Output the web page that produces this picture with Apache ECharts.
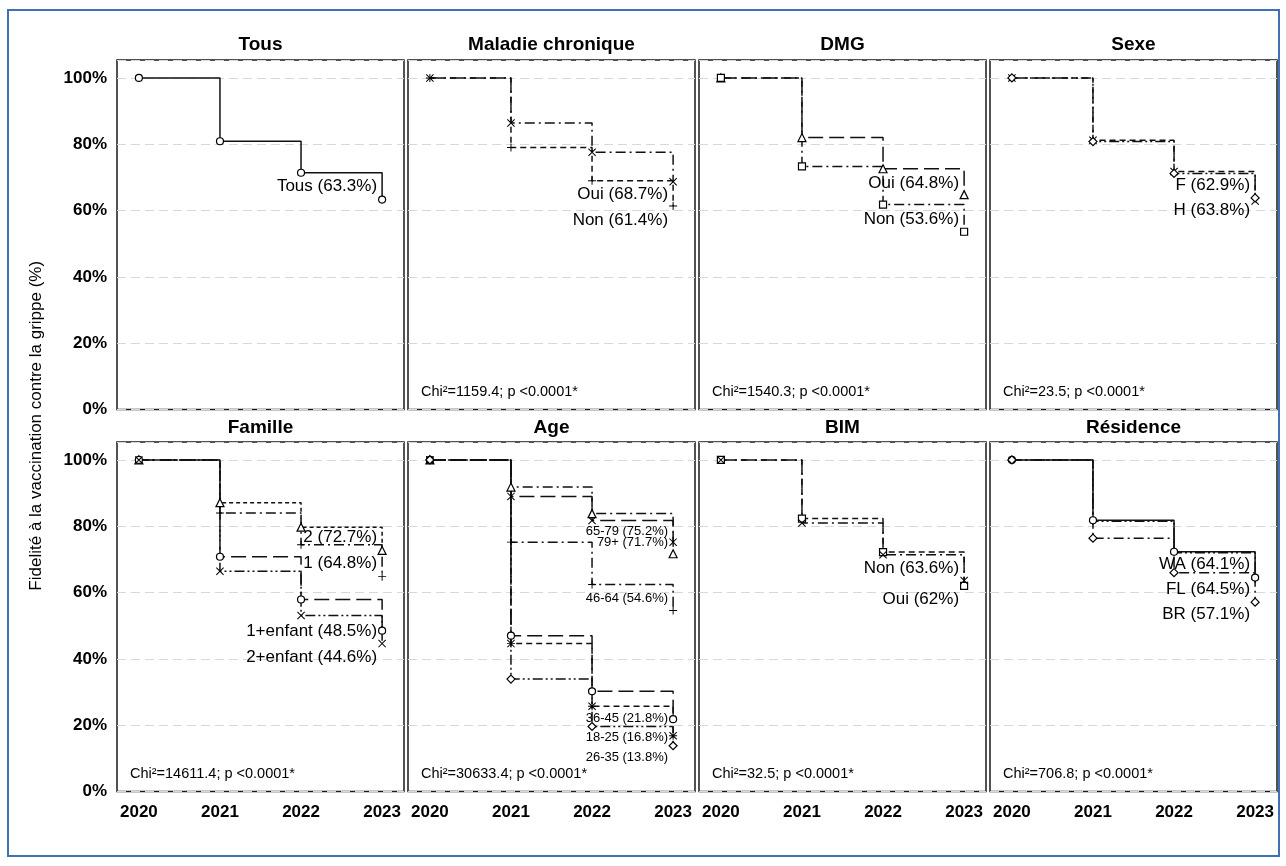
<!DOCTYPE html>
<html>
<head>
<meta charset="utf-8">
<script src="https://cdn.jsdelivr.net/npm/echarts@6.0.0/dist/echarts.min.js"></script>
<style>
  html, body { margin: 0; padding: 0; background: #fff; }
  #chart { width: 1286px; height: 866px; }
</style>
</head>
<body>
<div id="chart"></div>
<script>
// ---- data ----
const years = [2020, 2021, 2022, 2023];
const yTicks = [0, 20, 40, 60, 80, 100];

const panelTitles = ['Tous', 'Maladie chronique', 'DMG', 'Sexe', 'Famille', 'Age', 'BIM', 'Résidence'];
const chiTexts = [
  null,
  'Chi²=1159.4; p <0.0001*',
  'Chi²=1540.3; p <0.0001*',
  'Chi²=23.5; p <0.0001*',
  'Chi²=14611.4; p <0.0001*',
  'Chi²=30633.4; p <0.0001*',
  'Chi²=32.5; p <0.0001*',
  'Chi²=706.8; p <0.0001*'
];

const tousNames = ['Tous'];
const tousValues = [[100, 80.9, 71.4, 63.3]];

const maladieNames = ['Oui', 'Non'];
const maladieValues = [[100, 86.4, 77.6, 68.7], [100, 79.0, 69.0, 61.4]];

const dmgNames = ['Oui', 'Non'];
const dmgValues = [[100, 82.0, 72.6, 64.8], [100, 73.3, 61.8, 53.6]];

const sexeNames = ['F', 'H'];
const sexeValues = [[100, 81.2, 71.8, 62.9], [100, 80.8, 71.2, 63.8]];

const familleNames = ['2', '1', '1+enfant', '2+enfant'];
const familleValues = [
  [100, 87.1, 79.7, 72.7],
  [100, 84.0, 74.4, 64.8],
  [100, 70.8, 57.9, 48.5],
  [100, 66.4, 53.1, 44.6]
];

const ageNames = ['79+', '65-79', '46-64', '36-45', '18-25', '26-35'];
const ageValues = [
  [100, 91.8, 83.8, 71.7],
  [100, 89.0, 81.7, 75.2],
  [100, 75.2, 62.4, 54.6],
  [100, 47.0, 30.2, 21.8],
  [100, 44.6, 25.7, 16.8],
  [100, 33.9, 19.6, 13.8]
];

const bimNames = ['Oui', 'Non'];
const bimValues = [[100, 82.3, 72.2, 62], [100, 81.0, 71.4, 63.6]];

const residenceNames = ['WA', 'FL', 'BR'];
const residenceValues = [[100, 81.5, 72.0, 64.1], [100, 81.8, 72.3, 64.5], [100, 76.4, 66.0, 57.1]];

// ---- where each end label sits (value axis units), kept apart from the data ----
const labelSpots = [
  [67.3],
  [64.9, 57.0],
  [68.2, 57.3],
  [67.5, 60.0],
  [76.6, 68.8, 48.3, 40.4],
  [75.2, 78.5, 58.2, 22.0, 16.3, 10.3],
  [58.1, 67.3],
  [68.5, 61.0, 53.5]
];

// ---- marker and dash styles ----
const PLUS = 'path://M4.4,0H5.6V10H4.4Z M0,4.4H10V5.6H0Z';
const CROSS = 'path://M0.9,0L10,9.1L9.1,10L0,0.9Z M9.1,0L10,0.9L0.9,10L0,9.1Z';
const STAR = 'path://M0.9,0L10,9.1L9.1,10L0,0.9Z M9.1,0L10,0.9L0.9,10L0,9.1Z M4.4,0H5.6V10H4.4Z M0,4.4H10V5.6H0Z';
const DASH = {
  solid: 'solid',
  dashed: [6, 4],
  short: [4, 3],
  long: [15, 6],
  dotdash: [10, 4, 2, 4],
  twodash: [10, 3, 2, 3, 2, 3]
};

const panelSeries = [
  { names: tousNames, values: tousValues, marks: ['circle'], dashes: ['solid'] },
  { names: maladieNames, values: maladieValues, marks: ['cross', 'plus'], dashes: ['dotdash', 'dashed'] },
  { names: dmgNames, values: dmgValues, marks: ['triangle', 'rect'], dashes: ['long', 'dotdash'] },
  { names: sexeNames, values: sexeValues, marks: ['cross', 'diamond'], dashes: ['dashed', 'twodash'] },
  { names: familleNames, values: familleValues, marks: ['triangle', 'plus', 'circle', 'cross'], dashes: ['short', 'dotdash', 'long', 'twodash'] },
  { names: ageNames, values: ageValues, marks: ['triangle', 'cross', 'plus', 'circle', 'star', 'diamond'], dashes: ['dotdash', 'long', 'dotdash', 'long', 'dashed', 'twodash'] },
  { names: bimNames, values: bimValues, marks: ['rect', 'cross'], dashes: ['dashed', 'dotdash'] },
  { names: residenceNames, values: residenceValues, marks: ['plus', 'circle', 'diamond'], dashes: ['twodash', 'solid', 'dotdash'] }
];

// ---- layout ----
const FONT = '"Liberation Sans", Arial, sans-serif';
const INK = '#000';
const gridLefts = [117, 408, 699, 990];
const gridWidth = 287;
const gridTops = [60, 442];
const gridHeight = 349.5;
const titleY = [45, 428];

function symbolFor(kind) {
  const hollow = { color: '#fff', borderColor: INK, borderWidth: 1.2 };
  const solid = { color: INK, borderWidth: 0 };
  switch (kind) {
    case 'plus': return { symbol: PLUS, size: 8, style: solid };
    case 'cross': return { symbol: CROSS, size: 8, style: solid };
    case 'star': return { symbol: STAR, size: 8, style: solid };
    case 'triangle': return { symbol: 'triangle', size: 8, style: hollow };
    case 'rect': return { symbol: 'rect', size: 7, style: hollow };
    case 'diamond': return { symbol: 'diamond', size: 8, style: hollow };
    default: return { symbol: 'circle', size: 7, style: hollow };
  }
}

const grids = [], xAxes = [], yAxes = [], series = [], graphics = [];

// blue frame around the figure
graphics.push({
  type: 'rect', shape: { x: 8, y: 10, width: 1271, height: 846 },
  style: { fill: 'none', stroke: '#3f72b5', lineWidth: 2 }, z: 0
});

graphics.push({
  type: 'text', x: 36, y: (gridTops[0] + gridTops[1] + gridHeight) / 2, rotation: Math.PI / 2,
  style: {
    text: 'Fidelité à la vaccination contre la grippe (%)', fontSize: 17, fontFamily: FONT,
    fill: INK, textAlign: 'center', textVerticalAlign: 'middle'
  }
});

panelSeries.forEach((p, i) => {
  const row = i < 4 ? 0 : 1;
  const col = i % 4;
  const left = gridLefts[col];
  const top = gridTops[row];

  grids.push({
    left: left, top: top, width: gridWidth, height: gridHeight,
    show: true, borderColor: '#1a1a1a', borderWidth: 1.5, backgroundColor: '#fff'
  });

  xAxes.push({
    gridIndex: i, type: 'value', min: 2019.73, max: 2023.27,
    axisLine: { show: false }, axisTick: { show: false }, splitLine: { show: false },
    axisLabel: {
      show: row === 1, customValues: years, formatter: v => String(v),
      fontWeight: 'bold', fontSize: 17, fontFamily: FONT, color: INK, margin: 12
    }
  });

  yAxes.push({
    gridIndex: i, type: 'value', min: 0, max: 105.4, interval: 20,
    axisLine: { show: false }, axisTick: { show: false },
    axisLabel: {
      show: col === 0, customValues: yTicks, formatter: v => v + '%',
      fontWeight: 'bold', fontSize: 17, fontFamily: FONT, color: INK, margin: 10
    },
    splitLine: { show: true, lineStyle: { color: '#d8d8d8', type: [9, 5], width: 1.2 } }
  });

  p.names.forEach((name, k) => {
    const vals = p.values[k];
    const sym = symbolFor(p.marks[k]);
    series.push({
      type: 'line', xAxisIndex: i, yAxisIndex: i, step: 'end',
      data: years.map((yr, j) => [yr, vals[j]]),
      symbol: sym.symbol, symbolSize: sym.size, showSymbol: true,
      itemStyle: sym.style,
      lineStyle: { color: '#111', width: 1.5, type: DASH[p.dashes[k]] },
      animation: false, silent: true, z: 3
    });
  });

  // end-of-curve labels, text built from each curve's last value
  series.push({
    type: 'scatter', xAxisIndex: i, yAxisIndex: i,
    symbolSize: 0.1, itemStyle: { color: '#fff' },
    data: p.names.map((name, k) => ({
      value: [years[years.length - 1], labelSpots[i][k]],
      label: { formatter: name + ' (' + p.values[k][years.length - 1] + '%)' }
    })),
    label: {
      show: true, position: 'left', distance: 5,
      fontSize: i === 5 ? 13 : 17, fontFamily: FONT, color: INK, opacity: 1
    },
    animation: false, silent: true, z: 4
  });

  graphics.push({
    type: 'text', x: left + gridWidth / 2, y: titleY[row],
    style: {
      text: panelTitles[i], fontSize: 19, fontWeight: 'bold', fontFamily: FONT,
      fill: INK, textAlign: 'center', textVerticalAlign: 'middle'
    }
  });

  if (chiTexts[i]) {
    graphics.push({
      type: 'text', x: left + 13, y: top + gridHeight - 18,
      style: {
        text: chiTexts[i], fontSize: 14.5, fontFamily: FONT,
        fill: INK, textAlign: 'left', textVerticalAlign: 'middle'
      },
      z: 10
    });
  }
});

const chart = echarts.init(document.getElementById('chart'), null, { renderer: 'canvas' });
chart.setOption({
  backgroundColor: '#fff',
  animation: false,
  grid: grids,
  xAxis: xAxes,
  yAxis: yAxes,
  series: series,
  graphic: graphics
});
</script>
</body>
</html>
